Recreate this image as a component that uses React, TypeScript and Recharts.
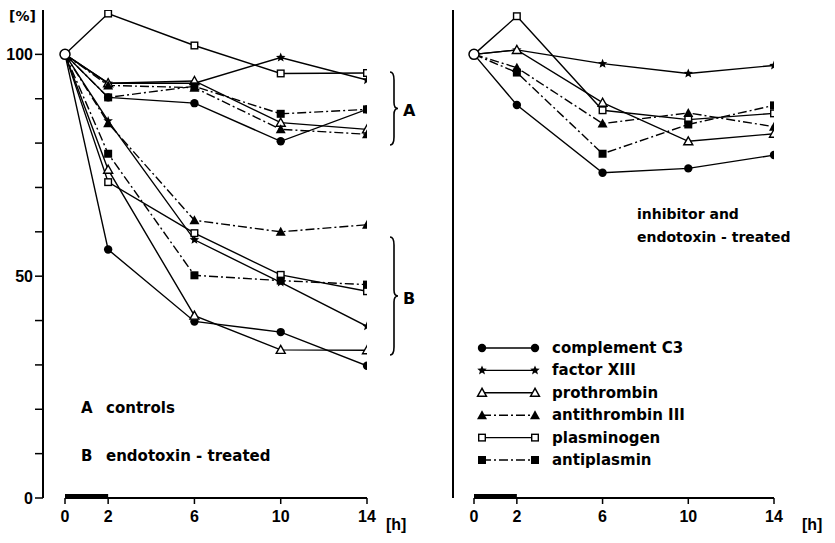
import React from "react";
import {
  LineChart,
  Line,
  XAxis,
  YAxis,
  ReferenceLine,
  ReferenceArea,
  ReferenceDot,
} from "recharts";

// sampling times [h]
const hours = [0, 2, 6, 10, 14];

// left panel, A = controls
const c3Controls = [100, 90.3, 89, 80.4, 87.6];
const f13Controls = [100, 93.5, 93.5, 99.3, 94.2];
const prothrombinControls = [100, 93.5, 94, 84.6, 83.1];
const antithrombinControls = [100, 93, 92.5, 83.1, 82];
const plasminogenControls = [100, 109.2, 102, 95.7, 95.8];
const antiplasminControls = [100, 90.3, 92.8, 86.6, 87.6];

// left panel, B = endotoxin-treated
const c3Endotoxin = [100, 56, 39.8, 37.4, 29.8];
const f13Endotoxin = [100, 85, 58.2, 48.6, 38.7];
const prothrombinEndotoxin = [100, 74, 41.1, 33.4, 33.3];
const antithrombinEndotoxin = [100, 84.5, 62.6, 60, 61.6];
const plasminogenEndotoxin = [100, 71.2, 59.7, 50.3, 46.6];
const antiplasminEndotoxin = [100, 77.6, 50.2, 49, 48.1];

// right panel, inhibitor and endotoxin-treated
const c3Inhibitor = [100, 88.6, 73.3, 74.3, 77.3];
const f13Inhibitor = [100, 101, 97.9, 95.7, 97.5];
const prothrombinInhibitor = [100, 101, 89.1, 80.4, 82.1];
const antithrombinInhibitor = [100, 97, 84.4, 86.8, 83.7];
const plasminogenInhibitor = [100, 108.6, 87.4, 85.3, 86.7];
const antiplasminInhibitor = [100, 95.9, 77.6, 84.2, 88.5];

const xTicks = [0, 2, 6, 10, 14];
const yTicks = [0, 10, 20, 30, 40, 50, 60, 70, 80, 90, 100];

type Marker = "circle" | "star" | "openTri" | "tri" | "openSq" | "sq";

const series: { name: string; marker: Marker; dashed: boolean }[] = [
  { name: "complement C3", marker: "circle", dashed: false },
  { name: "factor XIII", marker: "star", dashed: false },
  { name: "prothrombin", marker: "openTri", dashed: false },
  { name: "antithrombin III", marker: "tri", dashed: true },
  { name: "plasminogen", marker: "openSq", dashed: false },
  { name: "antiplasmin", marker: "sq", dashed: true },
];

const leftValues = [
  [c3Controls, c3Endotoxin],
  [f13Controls, f13Endotoxin],
  [prothrombinControls, prothrombinEndotoxin],
  [antithrombinControls, antithrombinEndotoxin],
  [plasminogenControls, plasminogenEndotoxin],
  [antiplasminControls, antiplasminEndotoxin],
];
const rightValues = [
  c3Inhibitor,
  f13Inhibitor,
  prothrombinInhibitor,
  antithrombinInhibitor,
  plasminogenInhibitor,
  antiplasminInhibitor,
];

const leftData = hours.map((t, i) => {
  const row: Record<string, number> = { t };
  leftValues.forEach(([a, b], s) => {
    row["a" + s] = a[i];
    row["b" + s] = b[i];
  });
  return row;
});
const rightData = hours.map((t, i) => {
  const row: Record<string, number> = { t };
  rightValues.forEach((v, s) => {
    row["r" + s] = v[i];
  });
  return row;
});

const FONT = "'DejaVu Sans', sans-serif";
const TICK_FONT = "'Liberation Sans', Arial, sans-serif";
const DASH = "9 3 2 3";

function markerShape(m: Marker, x: number, y: number, key?: string | number) {
  switch (m) {
    case "circle":
      return <circle key={key} cx={x} cy={y} r={4.2} fill="#000" />;
    case "star": {
      const pts: string[] = [];
      for (let k = 0; k < 10; k++) {
        const r = k % 2 === 0 ? 5 : 2.2;
        const a = -Math.PI / 2 + (k * Math.PI) / 5;
        pts.push(`${x + r * Math.cos(a)},${y + r * Math.sin(a)}`);
      }
      return <polygon key={key} points={pts.join(" ")} fill="#000" />;
    }
    case "openTri":
      return (
        <polygon
          key={key}
          points={`${x},${y - 4.5} ${x - 4.5},${y + 3.5} ${x + 4.5},${y + 3.5}`}
          fill="#fff"
          stroke="#000"
          strokeWidth={1.4}
        />
      );
    case "tri":
      return (
        <polygon
          key={key}
          points={`${x},${y - 5} ${x - 5},${y + 4} ${x + 5},${y + 4}`}
          fill="#000"
        />
      );
    case "openSq":
      return (
        <rect key={key} x={x - 3.3} y={y - 3.3} width={6.6} height={6.6} fill="#fff" stroke="#000" strokeWidth={1.4} />
      );
    default:
      return <rect key={key} x={x - 4} y={y - 4} width={8} height={8} fill="#000" />;
  }
}

const dotFor = (m: Marker) => (p: any) =>
  p.index === 0 ? <g key={p.key ?? "d" + p.index} /> : markerShape(m, p.cx, p.cy, p.key ?? "d" + p.index);

const tickStyle = { fill: "#000", fontFamily: TICK_FONT, fontWeight: 700, fontSize: 16 };

function LegendBox({ x, y }: { x: number; y: number }) {
  return (
    <g transform={`translate(${x},${y})`}>
      {series.map((s, i) => {
        const yy = i * 22.4;
        return (
          <g key={s.name}>
            <line x1={0} x2={53} y1={yy} y2={yy} stroke="#000" strokeWidth={1.4} strokeDasharray={s.dashed ? DASH : undefined} />
            {markerShape(s.marker, 0, yy)}
            {markerShape(s.marker, 53, yy)}
            <text x={70} y={yy + 5} fontFamily={FONT} fontWeight={700} fontSize={15} fill="#000">
              {s.name}
            </text>
          </g>
        );
      })}
    </g>
  );
}

function Brace({ x, y1, y2 }: { x: number; y1: number; y2: number }) {
  const m = (y1 + y2) / 2;
  return (
    <path
      d={`M ${x - 4} ${y1} Q ${x} ${y1} ${x} ${y1 + 8} L ${x} ${m - 6} Q ${x} ${m} ${x + 4} ${m} Q ${x} ${m} ${x} ${m + 6} L ${x} ${y2 - 8} Q ${x} ${y2} ${x - 4} ${y2}`}
      fill="none"
      stroke="#000"
      strokeWidth={1.6}
    />
  );
}

function Panel({
  data,
  prefix,
  count,
  width,
  right,
  xMin,
  showYLabels,
}: {
  data: Record<string, number>[];
  prefix: string[];
  count: number;
  width: number;
  right: number;
  xMin: number;
  showYLabels: boolean;
}) {
  return (
    <LineChart width={width} height={543} data={data} margin={{ top: 10, right, bottom: 0, left: 0 }}>
      <XAxis
        dataKey="t"
        type="number"
        domain={[xMin, 14]}
        ticks={xTicks}
        allowDataOverflow
        axisLine={false}
        tickLine={{ stroke: "#000", strokeWidth: 1.5 }}
        tickSize={6}
        tickMargin={7}
        tick={tickStyle}
        height={45}
      />
      <YAxis
        type="number"
        domain={[0, 110]}
        ticks={yTicks}
        allowDataOverflow
        width={43}
        axisLine={{ stroke: "#000", strokeWidth: 2 }}
        tickLine={{ stroke: "#000", strokeWidth: 1.5 }}
        tickSize={8}
        tick={showYLabels ? tickStyle : false}
        tickFormatter={(v: number) => (v % 50 === 0 ? String(v) : "")}
      />
      <ReferenceLine segment={[{ x: 0, y: 0 }, { x: 14, y: 0 }]} stroke="#000" strokeWidth={1.8} ifOverflow="visible" />
      <ReferenceArea x1={0} x2={2} y1={0} y2={0.9} fill="#000" fillOpacity={1} stroke="none" ifOverflow="visible" />
      {prefix.map((p) =>
        series.slice(0, count).map((s, i) => (
          <Line
            key={p + i}
            dataKey={p + i}
            name={s.name}
            stroke="#000"
            strokeWidth={1.4}
            strokeDasharray={s.dashed ? DASH : undefined}
            dot={dotFor(s.marker)}
            activeDot={false}
            isAnimationActive={false}
          />
        ))
      )}
      <ReferenceDot x={0} y={100} r={5} fill="#fff" stroke="#000" strokeWidth={1.5} />
    </LineChart>
  );
}

export default function App() {
  return (
    <div style={{ position: "absolute", left: 0, top: 0, width: 835, height: 543, background: "#fff" }}>
      <div style={{ position: "absolute", left: 0, top: 0 }}>
        <Panel data={leftData} prefix={["a", "b"]} count={series.length} width={400} right={33} xMin={-1.02} showYLabels />
      </div>
      <div style={{ position: "absolute", left: 410, top: 0 }}>
        <Panel data={rightData} prefix={["r"]} count={series.length} width={425} right={61} xMin={-0.98} showYLabels={false} />
      </div>

      <svg width={835} height={543} style={{ position: "absolute", left: 0, top: 0, pointerEvents: "none" }}>
        <g fontFamily={FONT} fontWeight={700} fill="#000">
          <text x={9} y={21} fontSize={14}>[%]</text>
          <text x={386} y={530} fontSize={16} fontFamily={TICK_FONT}>[h]</text>
          <text x={802} y={530} fontSize={16} fontFamily={TICK_FONT}>[h]</text>
          <text x={403} y={116} fontSize={16}>A</text>
          <text x={403} y={304} fontSize={16}>B</text>
          <text x={81} y={413} fontSize={15}>A</text>
          <text x={106} y={413} fontSize={15}>controls</text>
          <text x={81} y={461} fontSize={15}>B</text>
          <text x={106} y={461} fontSize={15}>endotoxin - treated</text>
          <text x={637} y={219} fontSize={14}>inhibitor and</text>
          <text x={637} y={242} fontSize={14}>endotoxin - treated</text>
        </g>
        <Brace x={394} y1={72} y2={145} />
        <Brace x={394} y1={237} y2={355} />
        <LegendBox x={482} y={348} />
      </svg>
    </div>
  );
}
